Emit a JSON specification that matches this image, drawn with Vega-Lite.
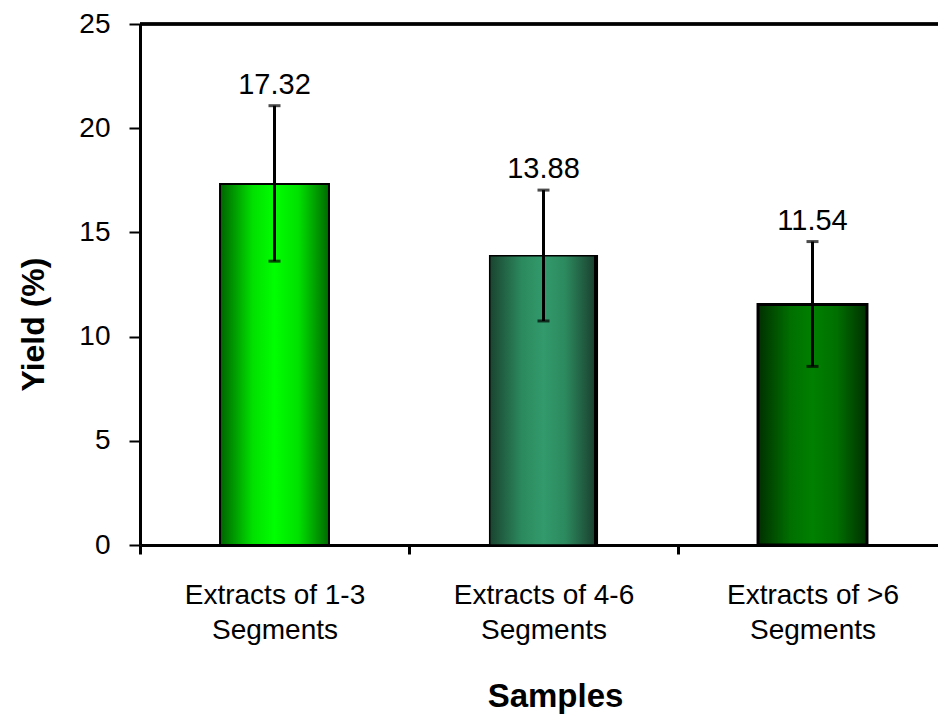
{
  "$schema": "https://vega.github.io/schema/vega-lite/v6.json",
  "autosize": "none",
  "width": 798,
  "height": 521,
  "padding": {"left": 140, "top": 24, "right": 0, "bottom": 170},
  "background": "white",
  "config": {
    "view": {"stroke": null},
    "font": "Liberation Sans",
    "axis": {"labelFont": "Liberation Sans", "titleFont": "Liberation Sans", "labelColor": "black", "titleColor": "black", "domainColor": "black", "tickColor": "black", "grid": false}
  },
  "data": {
    "values": [
      {"sample": "Extracts of 1-3 Segments", "yield": 17.32, "low": 13.62, "high": 21.08},
      {"sample": "Extracts of  4-6 Segments", "yield": 13.88, "low": 10.75, "high": 17.03},
      {"sample": "Extracts of >6 Segments", "yield": 11.54, "low": 8.57, "high": 14.56}
    ]
  },
  "encoding": {
    "x": {
      "field": "sample",
      "type": "nominal",
      "sort": null,
      "scale": {
        "domain": ["Extracts of 1-3 Segments", "Extracts of  4-6 Segments", "Extracts of >6 Segments"],
        "range": [0, 807],
        "paddingInner": 0,
        "paddingOuter": 0
      },
      "axis": {
        "title": "Samples",
        "titleFontSize": 33,
        "titleFontWeight": "bold",
        "titleBaseline": "alphabetic",
        "titleAlign": "center",
        "titleX": 415,
        "titleY": 161,
        "labelAngle": 0,
        "labelFontSize": 28,
        "labelLineHeight": 35,
        "labelBaseline": "top",
        "labelAlign": "center",
        "labelPadding": 27,
        "labelFlush": false,
        "labelOverlap": false,
        "labelLimit": 400,
        "labelExpr": "datum.label ? [replace(datum.label, ' Segments', ''), 'Segments'] : ''",
        "tickBand": "extent",
        "tickSize": 9,
        "tickWidth": 3,
        "domainWidth": 3
      }
    }
  },
  "layer": [
    {
      "mark": {"type": "rule", "color": "black", "strokeWidth": 3},
      "encoding": {"x": null, "y": {"datum": 25, "type": "quantitative"}}
    },
    {
      "transform": [{"filter": "datum.sample === 'Extracts of 1-3 Segments'"}],
      "mark": {
        "type": "bar",
        "width": {"band": 0.405},
        "stroke": "black",
        "strokeWidth": 2,
        "fill": {"gradient": "linear", "x1": 0, "y1": 0, "x2": 1, "y2": 0,
          "stops": [
            {"offset": 0, "color": "#006400"},
            {"offset": 0.3, "color": "#00e000"},
            {"offset": 0.5, "color": "#00ff00"},
            {"offset": 0.72, "color": "#00e000"},
            {"offset": 1, "color": "#006a00"}
          ]}
      },
      "encoding": {
        "y": {
          "field": "yield",
          "type": "quantitative",
          "scale": {"domain": [0, 25], "nice": false},
          "axis": {
            "title": "Yield  (%)",
            "titleFontSize": 32,
            "titleFontWeight": "bold",
            "titleBaseline": "alphabetic",
            "titleAlign": "center",
            "titleAngle": -90,
            "titleX": -97,
            "titleY": 300,
            "values": [0, 5, 10, 15, 20, 25],
            "labelFontSize": 28,
            "labelPadding": 19,
            "tickSize": 11,
            "tickWidth": 2,
            "domainWidth": 3
          }
        }
      }
    },
    {
      "transform": [{"filter": "datum.sample === 'Extracts of  4-6 Segments'"}],
      "mark": {
        "type": "bar",
        "width": {"band": 0.4},
        "stroke": "black",
        "strokeWidth": 1.5,
        "fill": {"gradient": "linear", "x1": 0, "y1": 0, "x2": 1, "y2": 0,
          "stops": [
            {"offset": 0, "color": "#1a4430"},
            {"offset": 0.3, "color": "#2b8a5e"},
            {"offset": 0.5, "color": "#329a6c"},
            {"offset": 0.7, "color": "#2c8a5f"},
            {"offset": 0.97, "color": "#1a4330"},
            {"offset": 0.97, "color": "#000000"},
            {"offset": 1, "color": "#000000"}
          ]}
      },
      "encoding": {"y": {"field": "yield", "type": "quantitative"}}
    },
    {
      "transform": [{"filter": "datum.sample === 'Extracts of >6 Segments'"}],
      "mark": {
        "type": "bar",
        "width": {"band": 0.405},
        "stroke": "black",
        "strokeWidth": 3,
        "fill": {"gradient": "linear", "x1": 0, "y1": 0, "x2": 1, "y2": 0,
          "stops": [
            {"offset": 0, "color": "#003000"},
            {"offset": 0.3, "color": "#007000"},
            {"offset": 0.5, "color": "#008000"},
            {"offset": 0.72, "color": "#007000"},
            {"offset": 1, "color": "#003000"}
          ]}
      },
      "encoding": {"y": {"field": "yield", "type": "quantitative"}}
    },
    {
      "mark": {"type": "rule", "color": "black", "strokeWidth": 3},
      "encoding": {
        "y": {"field": "low", "type": "quantitative"},
        "y2": {"field": "high"}
      }
    },
    {
      "mark": {"type": "tick", "color": "black", "thickness": 3, "size": 12},
      "encoding": {"y": {"field": "low", "type": "quantitative"}}
    },
    {
      "mark": {"type": "tick", "color": "black", "thickness": 3, "size": 12},
      "encoding": {"y": {"field": "high", "type": "quantitative"}}
    },
    {
      "mark": {"type": "text", "fontSize": 29, "baseline": "alphabetic", "dy": -12, "color": "black"},
      "encoding": {
        "y": {"field": "high", "type": "quantitative"},
        "text": {"field": "yield", "type": "quantitative", "format": ".2f"}
      }
    }
  ]
}
